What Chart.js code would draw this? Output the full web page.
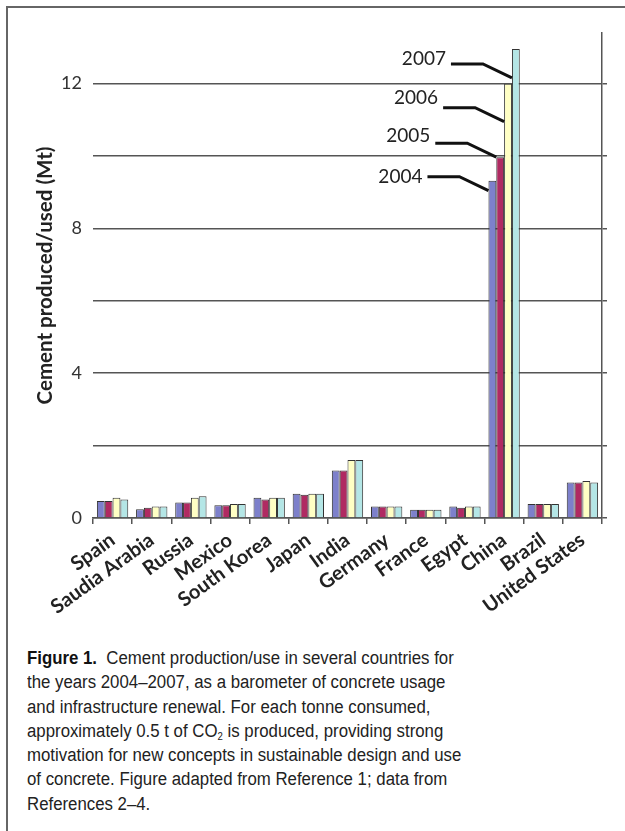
<!DOCTYPE html>
<html>
<head>
<meta charset="utf-8">
<script src="https://cdn.jsdelivr.net/npm/chart.js@4"></script>
<style>
  html, body { margin: 0; padding: 0; background: #fff; }
  body { width: 625px; height: 831px; position: relative; overflow: hidden; }
  #frame { position: absolute; left: 6px; top: 6px; width: 700px; height: 900px;
           border-left: 2px solid #666; border-top: 2px solid #666; }
  #cementChart { position: absolute; left: 0; top: 0; }
  #caption { position: absolute; left: 27px; top: 646px; font-family: "Liberation Sans", Arial, sans-serif;
             font-size: 17.6px; line-height: 24.3px; color: #222; white-space: nowrap;
             transform: scaleX(0.955); transform-origin: 0 0; }
  #caption b { font-weight: bold; color: #111; }
  #caption sub { font-size: 10px; vertical-align: -3px; line-height: 0; }
</style>
</head>
<body>
<div id="frame"></div>
<canvas id="cementChart" width="625" height="640"></canvas>
<div id="caption">
  <b>Figure 1.</b>&nbsp; Cement production/use in several countries for<br>
  the years 2004–2007, as a barometer of concrete usage<br>
  and infrastructure renewal. For each tonne consumed,<br>
  approximately 0.5 t of CO<sub>2</sub> is produced, providing strong<br>
  motivation for new concepts in sustainable design and use<br>
  of concrete. Figure adapted from Reference 1; data from<br>
  References 2–4.
</div>
<script>
// countries on the x axis
const countries = ['Spain', 'Saudia Arabia', 'Russia', 'Mexico', 'South Korea', 'Japan', 'India',
    'Germany', 'France', 'Egypt', 'China', 'Brazil', 'United States'];
const years = ['2004', '2005', '2006', '2007'];

// cement produced/used (Mt)
const values2004 = [0.47, 0.24, 0.43, 0.35, 0.56, 0.67, 1.31, 0.32, 0.23, 0.32, 9.32, 0.39, 0.98];
const values2005 = [0.47, 0.28, 0.43, 0.35, 0.51, 0.64, 1.31, 0.32, 0.23, 0.28, 9.97, 0.39, 0.98];
const values2006 = [0.56, 0.32, 0.56, 0.39, 0.56, 0.67, 1.60, 0.32, 0.23, 0.32, 12.0, 0.39, 1.02];
const values2007 = [0.51, 0.32, 0.60, 0.39, 0.56, 0.67, 1.60, 0.32, 0.23, 0.32, 12.96, 0.39, 0.98];

const yTicksShown = [0, 4, 8, 12];

const barColors = ['#7d80cb', '#b02a62', '#ffffc4', '#b4e6e6'];
const seriesValues = [values2004, values2005, values2006, values2007];

// year call-outs pointing at the China bars
const yearCallouts = {
    id: 'yearCallouts',
    afterDatasetsDraw(chart) {
        const c = chart.ctx;
        const idx = countries.indexOf('China');
        const drop = [10, 0, 38, 29];   // where the pointer hits the bar, below its top
        const lift = [0, 7, 10, 5];     // text sits a little above the leader line
        c.save();
        c.strokeStyle = '#111';
        c.lineWidth = 3;
        c.fillStyle = '#222';
        c.font = '19px Lato';
        c.textAlign = 'right';
        c.textBaseline = 'middle';
        years.forEach((yr, i) => {
            const bar = chart.getDatasetMeta(i).data[idx];
            const tipX = bar.x - bar.width / 2;
            const tipY = bar.y + drop[i];
            c.beginPath();
            c.moveTo(tipX - 61, tipY - 14);
            c.lineTo(tipX - 29, tipY - 14);
            c.lineTo(tipX, tipY);
            c.stroke();
            c.fillText(yr, tipX - 66, tipY - 14 - lift[i]);
        });
        c.restore();
    }
};

Chart.defaults.font.family = 'Lato';
Chart.defaults.color = '#333';

const ctx = document.getElementById('cementChart').getContext('2d');
const cementChart = new Chart(ctx, {
    type: 'bar',
    data: {
        labels: countries,
        datasets: years.map((yr, i) => ({
            label: yr,
            data: seriesValues[i],
            backgroundColor: barColors[i],
            borderColor: '#333',
            borderWidth: 1,
            categoryPercentage: 0.8,
            barPercentage: 1.0
        }))
    },
    options: {
        responsive: false,
        animation: false,
        layout: { padding: { top: 33, right: 18, left: 0, bottom: 0 } },
        plugins: { legend: { display: false }, tooltip: { enabled: false } },
        scales: {
            x: {
                grid: { drawOnChartArea: false, drawTicks: true, tickLength: 6, color: '#555', lineWidth: 1.5 },
                border: { display: true, color: '#555', width: 1.5 },
                ticks: {
                    minRotation: 36, maxRotation: 36, padding: 4, autoSkip: false,
                    color: '#222', font: { size: 20, weight: 'bold' }
                },
                afterFit: s => { s.height = 122; }
            },
            y: {
                min: 0, max: 13.4,
                grid: { color: '#555', lineWidth: 1.5, drawTicks: false },
                border: { display: false },
                ticks: {
                    stepSize: 2, includeBounds: false, padding: 11,
                    color: '#333', font: { size: 18 },
                    callback: v => yTicksShown.includes(v) ? v : ''
                },
                title: {
                    display: true, text: 'Cement produced/used (Mt)',
                    color: '#222', font: { size: 20.5, weight: 'bold' },
                    padding: { top: 33, bottom: 0 }
                },
                afterFit: s => { s.width = 93; }
            },
            y2: {
                position: 'right',
                min: 0, max: 13.4,
                grid: { drawOnChartArea: false, drawTicks: true, tickLength: 5, color: '#555', lineWidth: 1.5 },
                border: { display: true, color: '#555', width: 1.5 },
                ticks: { stepSize: 2, includeBounds: false, display: false },
                afterFit: s => { s.width = 5; }
            }
        }
    },
    plugins: [yearCallouts]
});
</script>
</body>
</html>
